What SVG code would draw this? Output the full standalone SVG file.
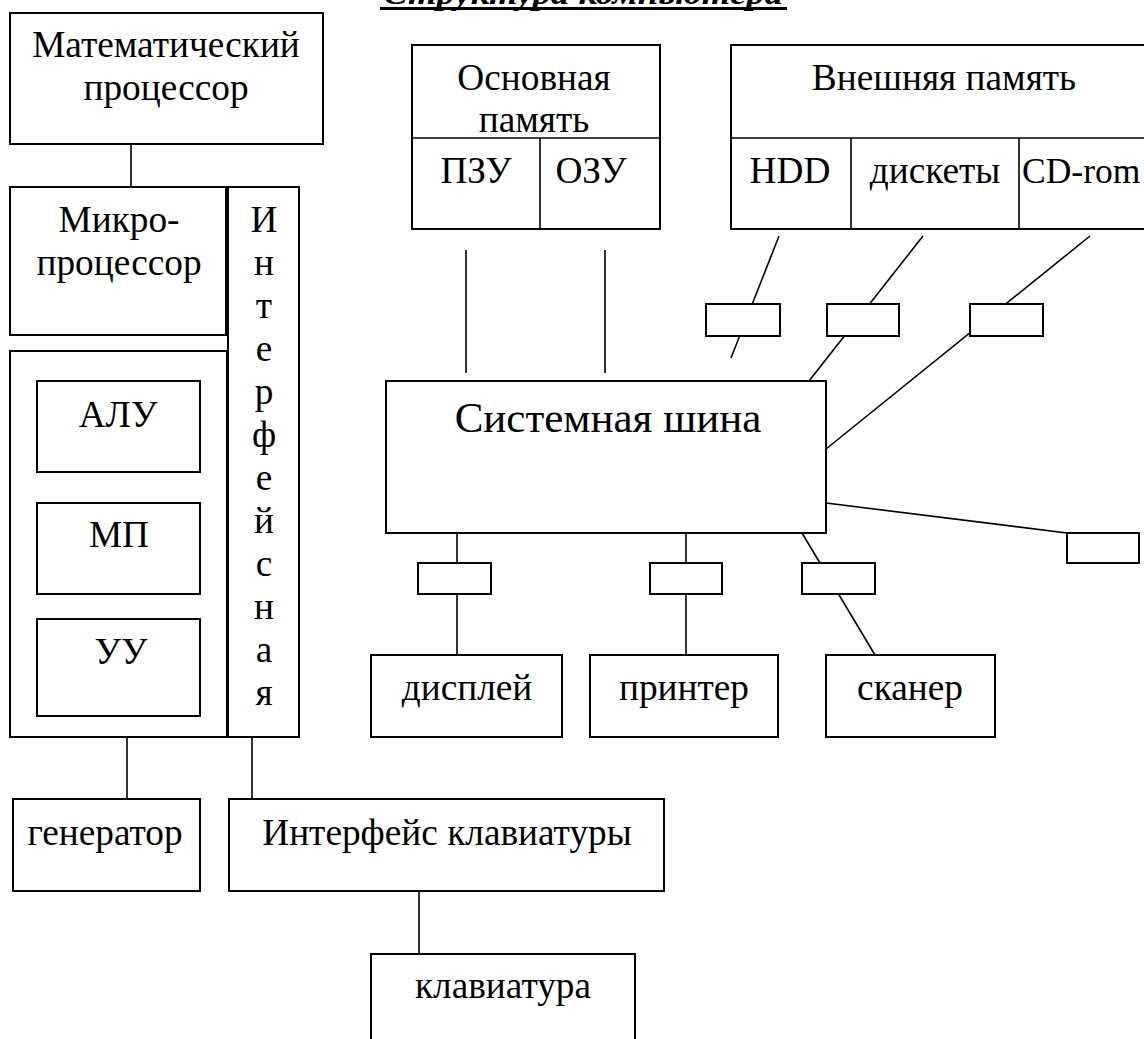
<svg xmlns="http://www.w3.org/2000/svg" width="1144" height="1039" viewBox="0 0 1144 1039">
<style>
.box{fill:#fff;stroke:#000;stroke-width:2}
.ln{stroke:#000;stroke-width:1.6;fill:none}
.t{font-family:'Liberation Serif','Times New Roman','DejaVu Serif',serif;font-size:37.3px;fill:#000}
.c{text-anchor:middle}
.big{font-size:43px}
.title{font-family:'Liberation Serif','Times New Roman','DejaVu Serif',serif;font-size:32px;font-weight:bold;font-style:italic;text-anchor:middle}
</style>
<rect width="1144" height="1039" fill="#fff"/>
<g id="title">
<text class="title" x="583" y="4" textLength="400" lengthAdjust="spacingAndGlyphs">Структура компьютера</text>
<line x1="380" y1="8.5" x2="787" y2="8.5" stroke="#000" stroke-width="3"/>
</g>
<g id="connectors">
<line class="ln" x1="131" y1="144" x2="131" y2="187"/>
<line class="ln" x1="127" y1="737" x2="127" y2="799"/>
<line class="ln" x1="252" y1="737" x2="252" y2="799"/>
<line class="ln" x1="419" y1="891" x2="419" y2="954"/>
<line class="ln" x1="466" y1="250" x2="466" y2="373"/>
<line class="ln" x1="605" y1="250" x2="605" y2="373"/>
<line class="ln" x1="779" y1="236" x2="731" y2="358"/>
<line class="ln" x1="923" y1="236" x2="809" y2="381"/>
<line class="ln" x1="1090" y1="236" x2="826" y2="449"/>
<line class="ln" x1="826" y1="503" x2="1067" y2="533"/>
<line class="ln" x1="457" y1="533" x2="457" y2="655"/>
<line class="ln" x1="686" y1="533" x2="686" y2="655"/>
<line class="ln" x1="802" y1="533" x2="875" y2="655"/>
</g>
<g id="adapters">
<rect class="box" x="706" y="304" width="74" height="32"/>
<rect class="box" x="827" y="304" width="72" height="32"/>
<rect class="box" x="970" y="304" width="73" height="32"/>
<rect class="box" x="1067" y="533" width="72" height="30"/>
<rect class="box" x="418" y="563" width="73" height="31"/>
<rect class="box" x="650" y="563" width="72" height="31"/>
<rect class="box" x="802" y="563" width="73" height="31"/>
</g>
<g id="math-processor">
<rect class="box" x="10" y="13" width="313" height="131"/>
<text class="t c" x="166" y="57">Математический</text>
<text class="t c" x="166" y="100">процессор</text>
</g>
<g id="microprocessor">
<rect class="box" x="10" y="187" width="216" height="148"/>
<text class="t c" x="119" y="232">Микро-</text>
<text class="t c" x="119" y="275">процессор</text>
</g>
<g id="interface">
<rect class="box" x="228" y="187" width="71" height="550"/>
<text class="t c" x="264" y="232">И</text>
<text class="t c" x="264" y="275">н</text>
<text class="t c" x="264" y="318">т</text>
<text class="t c" x="264" y="361">е</text>
<text class="t c" x="264" y="404">р</text>
<text class="t c" x="264" y="447">ф</text>
<text class="t c" x="264" y="490">е</text>
<text class="t c" x="264" y="533">й</text>
<text class="t c" x="264" y="576">с</text>
<text class="t c" x="264" y="619">н</text>
<text class="t c" x="264" y="662">а</text>
<text class="t c" x="264" y="705">я</text>
</g>
<g id="cpu-units">
<rect class="box" x="10" y="351" width="217" height="386"/>
<g id="alu">
<rect class="box" x="37" y="381" width="163" height="91"/>
<text class="t c" x="118" y="427">АЛУ</text>
</g>
<g id="mp">
<rect class="box" x="37" y="503" width="163" height="91"/>
<text class="t c" x="119" y="547">МП</text>
</g>
<g id="uu">
<rect class="box" x="37" y="619" width="163" height="97"/>
<text class="t c" x="121" y="664">УУ</text>
</g>
</g>
<g id="main-memory">
<rect class="box" x="412" y="45" width="248" height="184"/>
<line class="ln" x1="412" y1="138" x2="660" y2="138" stroke-width="2"/>
<line class="ln" x1="540" y1="138" x2="540" y2="229" stroke-width="2"/>
<text class="t c" x="534" y="90">Основная</text>
<text class="t c" x="534" y="132">память</text>
<text class="t c" x="476" y="183">ПЗУ</text>
<text class="t c" x="591" y="183">ОЗУ</text>
</g>
<g id="external-memory">
<rect class="box" x="731" y="45" width="430" height="184"/>
<line class="ln" x1="731" y1="138" x2="1150" y2="138" stroke-width="2"/>
<line class="ln" x1="851" y1="138" x2="851" y2="229" stroke-width="2"/>
<line class="ln" x1="1019" y1="138" x2="1019" y2="229" stroke-width="2"/>
<text class="t c" x="944" y="90">Внешняя память</text>
<text class="t c" x="790" y="183">HDD</text>
<text class="t c" x="935" y="183">дискеты</text>
<text class="t" x="1022" y="183" style="font-size:35.5px">CD-rom</text>
</g>
<g id="system-bus">
<rect class="box" x="386" y="381" width="440" height="152"/>
<text class="t c big" x="608" y="432">Системная шина</text>
</g>
<g id="display">
<rect class="box" x="371" y="655" width="191" height="82"/>
<text class="t c" x="467" y="700">дисплей</text>
</g>
<g id="printer">
<rect class="box" x="590" y="655" width="188" height="82"/>
<text class="t c" x="684" y="700">принтер</text>
</g>
<g id="scanner">
<rect class="box" x="826" y="655" width="169" height="82"/>
<text class="t c" x="910" y="700">сканер</text>
</g>
<g id="generator">
<rect class="box" x="13" y="799" width="187" height="92"/>
<text class="t c" x="105" y="845">генератор</text>
</g>
<g id="keyboard-interface">
<rect class="box" x="229" y="799" width="435" height="92"/>
<text class="t c" x="447" y="845">Интерфейс клавиатуры</text>
</g>
<g id="keyboard">
<rect class="box" x="371" y="954" width="264" height="100"/>
<text class="t c" x="503" y="998">клавиатура</text>
</g>
</svg>
